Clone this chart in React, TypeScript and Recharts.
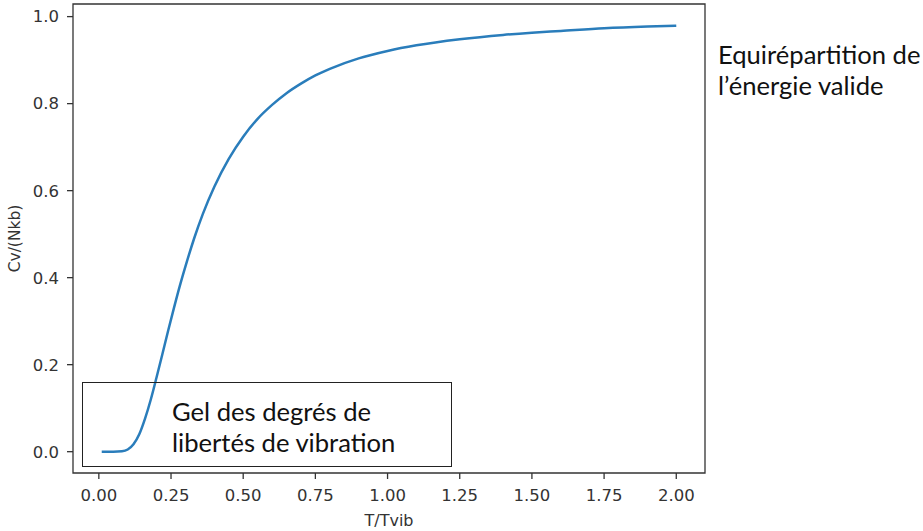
import React from 'react';
import { LineChart, Line, XAxis, YAxis, ReferenceArea, Label } from 'recharts';

// Reduced temperature T/Tvib
const tValues = [
  0.01, 0.05, 0.08, 0.1, 0.12, 0.14, 0.16, 0.18, 0.2, 0.22, 0.24, 0.26, 0.28, 0.3,
  0.33, 0.36, 0.4, 0.45, 0.5, 0.55, 0.6, 0.65, 0.7, 0.75, 0.8, 0.9, 1.0, 1.1, 1.25,
  1.4, 1.5, 1.6, 1.75, 1.9, 2.0,
];

// Vibrational heat capacity Cv/(Nkb)
const cvValues = [
  0, 0, 0.001, 0.005, 0.017, 0.04, 0.076, 0.12, 0.171, 0.224, 0.278, 0.33, 0.38, 0.426,
  0.49, 0.546, 0.609, 0.673, 0.724, 0.765, 0.797, 0.824, 0.846, 0.865, 0.88, 0.904, 0.921,
  0.934, 0.948, 0.958, 0.963, 0.967, 0.973, 0.977, 0.979,
];

const xTicks = [0, 0.25, 0.5, 0.75, 1.0, 1.25, 1.5, 1.75, 2.0];
const yTicks = [0, 0.2, 0.4, 0.6, 0.8, 1.0];

const xDomain: [number, number] = [-0.0895, 2.0995];
const yDomain: [number, number] = [-0.049, 1.029];

const data = tValues.map((t, i) => ({ t, cv: cvValues[i] }));

const axisColor = '#333333';
const plotFont = "'DejaVu Sans', sans-serif";
const tickFont = { fontSize: 16.5, fill: '#333333', fontFamily: plotFont };
const noteFont = "Lato, 'Open Sans', sans-serif";

export default function App() {
  return (
    <div
      style={{
        position: 'absolute',
        left: 0,
        top: 0,
        width: 923,
        height: 531,
        background: '#fff',
        fontFamily: plotFont,
        fontSize: 16.5,
      }}
    >
      <LineChart
        width={923}
        height={531}
        data={data}
        margin={{ top: 4, right: 218, bottom: 0, left: 0 }}
        style={{ fontFamily: plotFont }}
      >
        <XAxis
          dataKey="t"
          type="number"
          domain={xDomain}
          ticks={xTicks}
          allowDataOverflow
          tickFormatter={(v: number) => v.toFixed(2)}
          height={58}
          axisLine={false}
          tickLine={{ stroke: axisColor, strokeWidth: 1.3 }}
          tickSize={6}
          tickMargin={10}
          tick={tickFont}
          fontSize={16.5}
        >
          <Label
            value="T/Tvib"
            position="insideBottom"
            offset={5}
            fontSize={16}
            fill="#333333"
            fontFamily={plotFont}
          />
        </XAxis>
        <YAxis
          type="number"
          domain={yDomain}
          ticks={yTicks}
          allowDataOverflow
          tickFormatter={(v: number) => v.toFixed(1)}
          width={73}
          axisLine={false}
          tickLine={{ stroke: axisColor, strokeWidth: 1.3 }}
          tickSize={6}
          tickMargin={8}
          tick={tickFont}
          fontSize={16.5}
        >
          <Label
            content={(props: any) => {
              const vb = props.viewBox || {};
              const cx = 15;
              const cy = (vb.y ?? 4) + (vb.height ?? 469) / 2;
              return (
                <text
                  x={cx}
                  y={cy}
                  transform={`rotate(-90 ${cx} ${cy})`}
                  textAnchor="middle"
                  dominantBaseline="central"
                  fontSize={15.5}
                  fill="#333333"
                  fontFamily={plotFont}
                >
                  Cv/(Nkb)
                </text>
              );
            }}
          />
        </YAxis>
        <ReferenceArea
          x1={xDomain[0]}
          x2={xDomain[1]}
          y1={yDomain[0]}
          y2={yDomain[1]}
          fill="none"
          stroke={axisColor}
          strokeWidth={1.3}
          ifOverflow="visible"
        />
        <Line
          type="monotone"
          dataKey="cv"
          stroke="#2a7dbb"
          strokeWidth={2.5}
          dot={false}
          isAnimationActive={false}
        />
      </LineChart>

      <div
        style={{
          position: 'absolute',
          left: 82,
          top: 382,
          width: 370,
          height: 85,
          boxSizing: 'border-box',
          border: '1.5px solid #222',
          pointerEvents: 'none',
        }}
      >
        <div
          style={{
            position: 'absolute',
            left: 89,
            top: 13,
            fontFamily: noteFont,
            fontSize: 25.6,
            lineHeight: '31px',
            color: '#111',
            whiteSpace: 'nowrap',
          }}
        >
          Gel des degrés de
          <br />
          libertés de vibration
        </div>
      </div>

      <div
        style={{
          position: 'absolute',
          left: 718,
          top: 39,
          fontFamily: noteFont,
          fontSize: 25.6,
          lineHeight: '31px',
          color: '#111',
          whiteSpace: 'nowrap',
        }}
      >
        Equirépartition de
        <br />
        l’énergie valide
      </div>
    </div>
  );
}
